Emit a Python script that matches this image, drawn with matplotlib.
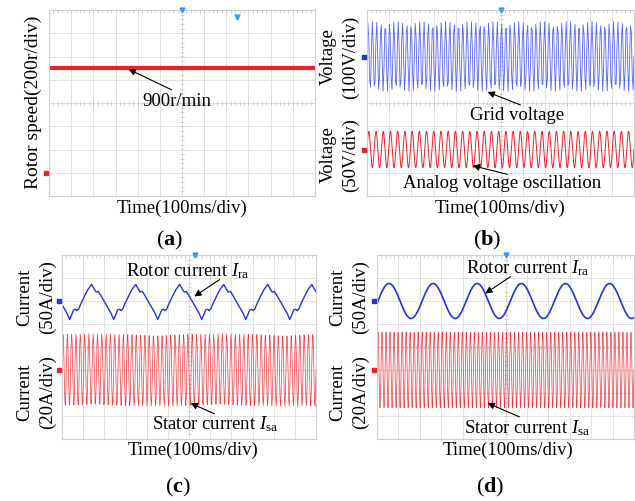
import numpy as np
import matplotlib
matplotlib.use('Agg')
import matplotlib.pyplot as plt

plt.rcParams['font.family'] = ['Liberation Serif', 'DejaVu Serif']
plt.rcParams['mathtext.fontset'] = 'custom'
plt.rcParams['mathtext.rm'] = 'Liberation Serif'
plt.rcParams['mathtext.it'] = 'Liberation Serif:italic'
plt.rcParams['mathtext.bf'] = 'Liberation Serif:bold'

W, H = 635, 501
N_XDIV, N_YDIV = 12, 8

# (a) rotor speed
speed_rpm = 900
speed_scale = 200        # r/div
speed_ground = -3        # div

# (b) grid voltage / analog oscillation (cycles over screen, amplitude & offset in div)
grid_cycles, grid_amp, grid_offset, grid_samples = 62, 1.5, 2.0, 300
osc_cycles, osc_amp, osc_offset = 37, 0.78, -2.0

# (c) distorted rotor current, one period (phase, value in div)
rotor_c_phase = [0.0, 0.045, 0.09, 0.135, 0.17, 0.21, 0.26, 0.34, 0.41, 0.5,
                 0.55, 0.6, 0.65, 0.69, 0.79, 0.86, 0.94]
rotor_c_value = [-0.80, -0.61, -0.39, -0.36, -0.42, -0.33, -0.10, 0.22, 0.48, 0.72,
                 0.55, 0.39, 0.42, 0.30, -0.03, -0.27, -0.53]
rotor_c_period, rotor_c_start, rotor_c_offset = 2.08, 0.36, 2.0
stator_c_cycles, stator_c_amp, stator_c_offset, stator_c_samples = 59, 1.57, -1.0, 530

# (d) sinusoidal rotor current
rotor_d_period, rotor_d_peak, rotor_d_amp, rotor_d_offset = 2.06, 0.56, 0.76, 2.0
stator_d_cycles, stator_d_amp, stator_d_offset, stator_d_samples = 64, 1.65, -1.0, 1300

RED = '#e8222a'
PINK = '#f03a40'
BLUE = '#2233dd'
LBLUE = '#5566ee'


def fx(px):
    return px / W


def fy(py):
    return 1 - py / H


def scope_axes(fig, left, top, right, bottom):
    ax = fig.add_axes([fx(left), fy(bottom), (right - left) / W, (bottom - top) / H])
    ax.set_xlim(0, N_XDIV)
    ax.set_ylim(-N_YDIV / 2, N_YDIV / 2)
    ax.set_xticks(range(N_XDIV + 1))
    ax.set_yticks(range(-N_YDIV // 2, N_YDIV // 2 + 1))
    ax.grid(True, color='#e2e2e2', lw=0.7)
    ax.tick_params(length=0, labelbottom=False, labelleft=False)
    for s in ax.spines.values():
        s.set_color('#cfcfcf')
        s.set_linewidth(0.8)
    # dotted centre cross with small ticks
    ax.axhline(0, color='#d0d0d0', lw=0.7, ls=(0, (1, 2)))
    ax.axvline(N_XDIV / 2, color='#d0d0d0', lw=0.7, ls=(0, (1, 2)))
    mx = np.arange(0, N_XDIV + 0.01, 0.2)
    my = np.arange(-N_YDIV / 2, N_YDIV / 2 + 0.01, 0.2)
    ax.plot(mx, np.zeros_like(mx), '|', ms=2.5, color='#cccccc', mew=0.6)
    ax.plot(np.full_like(my, N_XDIV / 2), my, '_', ms=2.5, color='#cccccc', mew=0.6)
    ax.plot(mx, np.full_like(mx, N_YDIV / 2 - 0.05), '|', ms=2.5, color='#cccccc', mew=0.6)
    return ax


def ground(ax, y, color):
    ax.plot(-0.12, y, marker='s', ms=3.5, color=color, clip_on=False, zorder=5)


def trigger(ax, x, y=N_YDIV / 2):
    ax.plot(x, y, marker='v', ms=3.5, color='#3399ff', clip_on=False, zorder=5)


def label(x, y, s, size=13.5, rot=0, **kw):
    fig.text(fx(x), fy(y), s, fontsize=size, rotation=rot, ha='center', va='center', **kw)


def arrow(x0, y0, x1, y1):
    fig.add_artist(matplotlib.patches.FancyArrowPatch(
        (fx(x0), fy(y0)), (fx(x1), fy(y1)), transform=fig.transFigure,
        arrowstyle='-|>', mutation_scale=10, color='k', lw=0.8))


fig = plt.figure(figsize=(W / 100, H / 100), dpi=100)

# ---------------- (a)
ax = scope_axes(fig, 49, 10, 315, 196)
ax.axhline(speed_ground + speed_rpm / speed_scale, color=RED, lw=3)
ground(ax, speed_ground, RED)
trigger(ax, 6)
trigger(ax, 8.5, 3.7)
label(33, 102, 'Rotor speed(200r/div)', size=14, rot=90)
label(177, 101, '900r/min')
arrow(174, 91, 126, 68)
label(182, 208, 'Time(100ms/div)')
label(170, 240, r'($\mathbf{a}$)', size=16)

# ---------------- (b)
ax = scope_axes(fig, 367, 10, 634, 196)
t = np.linspace(0, N_XDIV, grid_samples)
ax.plot(t, grid_offset + grid_amp * np.sin(2 * np.pi * grid_cycles * t / N_XDIV),
        color=LBLUE, lw=0.6)
t = np.linspace(0, N_XDIV, 3000)
ax.plot(t, osc_offset + osc_amp * np.sin(2 * np.pi * osc_cycles * t / N_XDIV),
        color=RED, lw=0.7)
ground(ax, grid_offset, BLUE)
ground(ax, osc_offset, RED)
trigger(ax, 6.0)
label(328, 57, 'Voltage', rot=90)
label(350, 57, '(100V/div)', rot=90)
label(328, 155, 'Voltage', rot=90)
label(350, 155, '(50V/div)', rot=90)
label(517, 115, 'Grid voltage')
arrow(523, 106, 485, 91)
label(502, 183, 'Analog voltage oscillation')
arrow(510, 175, 470, 165)
label(500, 208, 'Time(100ms/div)')
label(487, 240, r'($\mathbf{b}$)', size=16)

# ---------------- (c)
ax = scope_axes(fig, 62, 255, 316, 439)
xs, ys = [], []
for k in range(-1, 7):
    for p, v in zip(rotor_c_phase, rotor_c_value):
        xs.append(rotor_c_start + (k + p) * rotor_c_period)
        ys.append(rotor_c_offset + v)
ax.plot(xs, ys, color=BLUE, lw=1.0)
t = np.linspace(0, N_XDIV, stator_c_samples)
ax.plot(t, stator_c_offset + stator_c_amp * np.sin(2 * np.pi * stator_c_cycles * t / N_XDIV),
        color=PINK, lw=0.5)
ground(ax, rotor_c_offset, BLUE)
ground(ax, stator_c_offset, RED)
trigger(ax, 6.3)
label(25, 297, 'Current', rot=90)
label(47, 297, '(50A/div)', rot=90)
label(25, 392, 'Current', rot=90)
label(47, 392, '(20A/div)', rot=90)
label(188, 271, r'Rotor current $I_{\mathrm{ra}}$')
arrow(222, 278, 192, 298)
label(215, 424, r'Stator current $I_{\mathrm{sa}}$')
arrow(217, 415, 188, 402)
label(193, 450, 'Time(100ms/div)')
label(178, 487, r'($\mathbf{c}$)', size=16)

# ---------------- (d)
ax = scope_axes(fig, 377, 255, 634, 439)
t = np.linspace(0, N_XDIV, 2000)
ax.plot(t, rotor_d_offset + rotor_d_amp * np.cos(2 * np.pi * (t - rotor_d_peak) / rotor_d_period),
        color=BLUE, lw=1.2)
t = np.linspace(0, N_XDIV, stator_d_samples)
ax.plot(t, stator_d_offset + stator_d_amp * np.sin(2 * np.pi * stator_d_cycles * t / N_XDIV),
        color=PINK, lw=0.5)
ground(ax, rotor_d_offset, BLUE)
ground(ax, stator_d_offset, RED)
trigger(ax, 6.0)
label(338, 297, 'Current', rot=90)
label(360, 297, '(50A/div)', rot=90)
label(338, 392, 'Current', rot=90)
label(360, 392, '(20A/div)', rot=90)
label(528, 268, r'Rotor current $I_{\mathrm{ra}}$')
arrow(513, 275, 483, 295)
label(527, 428, r'Stator current $I_{\mathrm{sa}}$')
arrow(522, 418, 485, 402)
label(508, 450, 'Time(100ms/div)')
label(490, 487, r'($\mathbf{d}$)', size=16)

fig.savefig('out.png', dpi=100)
